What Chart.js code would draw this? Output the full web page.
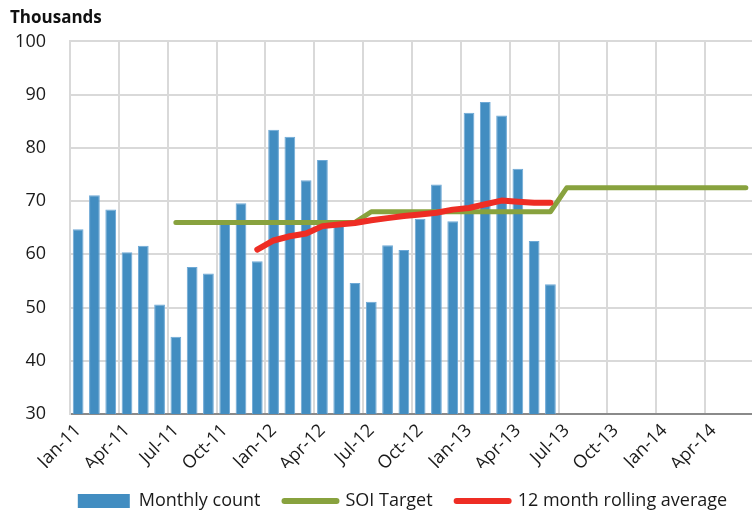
<!DOCTYPE html>
<html>
<head>
<meta charset="utf-8">
<script src="https://cdn.jsdelivr.net/npm/chart.js@4.4.0/dist/chart.umd.min.js"></script>
<style>
  html, body { margin: 0; padding: 0; overflow: hidden; background: #fff; }
  #wrap { position: absolute; left: 0; top: 0; width: 795px; height: 514px; }
</style>
</head>
<body>
<div id="wrap"><canvas id="graphe"></canvas></div>
<script>
// mois (Jan-11 .. Jun-14)
const mois = ['Jan-11','Feb-11','Mar-11','Apr-11','May-11','Jun-11','Jul-11','Aug-11','Sep-11','Oct-11','Nov-11','Dec-11',
              'Jan-12','Feb-12','Mar-12','Apr-12','May-12','Jun-12','Jul-12','Aug-12','Sep-12','Oct-12','Nov-12','Dec-12',
              'Jan-13','Feb-13','Mar-13','Apr-13','May-13','Jun-13','Jul-13','Aug-13','Sep-13','Oct-13','Nov-13','Dec-13',
              'Jan-14','Feb-14','Mar-14','Apr-14','May-14','Jun-14'];

// en milliers
const monthlyCount = [64.7, 71.1, 68.4, 60.4, 61.6, 50.6, 44.5, 57.6, 56.4, 66.4, 69.6, 58.7,
                      83.4, 82.1, 73.9, 77.7, 65.6, 54.6, 51.1, 61.7, 60.8, 66.7, 73.1, 66.2,
                      86.6, 88.6, 86.1, 76.1, 62.5, 54.4];

const soiTarget = [null, null, null, null, null, null, 66, 66, 66, 66, 66, 66,
                   66, 66, 66, 66, 66, 66, 68, 68, 68, 68, 68, 68,
                   68, 68, 68, 68, 68, 68, 72.5, 72.5, 72.5, 72.5, 72.5, 72.5,
                   72.5, 72.5, 72.5, 72.5, 72.5, 72.5];

const rollingAvg = [null, null, null, null, null, null, null, null, null, null, null, 60.9,
                    62.6, 63.4, 63.9, 65.3, 65.6, 65.9, 66.4, 66.8, 67.2, 67.5, 67.8, 68.4,
                    68.7, 69.4, 70.1, 69.9, 69.7, 69.7];

const yTicks = [30, 40, 50, 60, 70, 80, 90, 100];

const police = "'Open Sans', 'Noto Sans', sans-serif";
const grille = '#d9d9d9';

var ctx = document.getElementById('graphe').getContext('2d');

var data = {
    labels: mois,
    datasets: [{
        type: 'bar',
        label: 'Monthly count',
        data: monthlyCount,
        backgroundColor: '#428dc1',
        borderColor: '#6ea9d6',
        borderWidth: 1,
        barPercentage: 0.66,
        categoryPercentage: 1,
        order: 3
    }, {
        type: 'line',
        label: 'SOI Target',
        data: soiTarget,
        borderColor: '#88a23e',
        backgroundColor: '#88a23e',
        borderWidth: 5,
        pointRadius: 0,
        tension: 0,
        borderCapStyle: 'round',
        borderJoinStyle: 'round',
        order: 2
    }, {
        type: 'line',
        label: '12 month rolling average',
        data: rollingAvg,
        borderColor: '#ee2d24',
        backgroundColor: '#ee2d24',
        borderWidth: 6,
        pointRadius: 0,
        tension: 0,
        borderCapStyle: 'round',
        borderJoinStyle: 'round',
        order: 1
    }]
};

var options = {
    responsive: true,
    maintainAspectRatio: false,
    animation: false,
    layout: { padding: { left: 10, top: 0, bottom: -6, right: 0 } },
    plugins: {
        title: {
            display: true,
            text: 'Thousands',
            align: 'start',
            color: '#111',
            font: { family: police, size: 17, weight: 'bold' },
            padding: { top: 8, bottom: 13 }
        },
        legend: {
            position: 'bottom',
            labels: {
                usePointStyle: true,
                pointStyleWidth: 52,
                boxHeight: 14,
                padding: 24,
                color: '#1a1a1a',
                font: { family: police, size: 18 },
                sort: (a, b) => a.datasetIndex - b.datasetIndex,
                generateLabels: function(chart) {
                    let items = Chart.defaults.plugins.legend.labels.generateLabels(chart);
                    return items.map(function(it) {
                        if (it.datasetIndex === 0) {
                            it.pointStyle = 'rect';
                            it.lineWidth = 0;
                        } else {
                            it.pointStyle = 'line';
                            it.lineWidth = 6;
                            it.lineCap = 'round';
                        }
                        return it;
                    });
                }
            }
        },
        tooltip: { enabled: false }
    },
    scales: {
        x: {
            offset: true,
            afterFit: (s) => { s.height = s.height - 13; },
            grid: {
                offset: true,
                drawTicks: false,
                lineWidth: 2,
                color: (c) => (c.index % 3 === 0 ? grille : 'rgba(0,0,0,0)')
            },
            border: { color: '#8a8a8a', width: 2 },
            ticks: {
                autoSkip: false,
                maxRotation: 45,
                minRotation: 45,
                padding: 6,
                color: '#1a1a1a',
                font: { family: police, size: 18 },
                callback: function(val, i) { return i % 3 === 0 ? mois[i] : ''; }
            }
        },
        y: {
            min: 30,
            max: 100,
            afterFit: (s) => { s.width = 60; },
            afterBuildTicks: (s) => { s.ticks = yTicks.map(v => ({ value: v })); },
            grid: { drawTicks: false, lineWidth: 2, color: grille },
            border: { color: grille, width: 2 },
            ticks: {
                padding: 24,
                color: '#1a1a1a',
                font: { family: police, size: 18 }
            }
        },
        yd: {
            position: 'right',
            display: true,
            afterFit: (s) => { s.width = 41; },
            grid: { display: false },
            border: { display: false },
            ticks: { display: false }
        }
    }
};

var config = {
    type: 'bar',
    data: data,
    options: options
};

let graph1 = new Chart(ctx, config);
</script>
</body>
</html>
